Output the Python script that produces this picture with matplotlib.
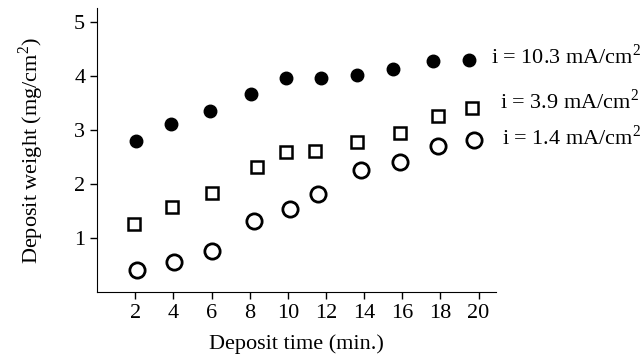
import matplotlib
matplotlib.use("Agg")
import matplotlib.pyplot as plt

# deposit time (min.) and deposit weight (mg/cm2)
t_high = [2.05, 3.85, 5.9, 8.05, 9.9, 11.75, 13.6, 15.5, 17.6, 19.5]
w_high = [2.80, 3.11, 3.35, 3.66, 3.96, 3.96, 4.01, 4.12, 4.28, 4.30]

t_mid = [1.95, 3.95, 6.0, 8.4, 9.9, 11.45, 13.6, 15.9, 17.85, 19.65]
w_mid = [1.26, 1.58, 1.84, 2.32, 2.59, 2.61, 2.78, 2.95, 3.25, 3.40]

t_low = [2.1, 4.05, 6.05, 8.25, 10.1, 11.6, 13.85, 15.9, 17.85, 19.75]
w_low = [0.41, 0.55, 0.75, 1.32, 1.54, 1.81, 2.25, 2.40, 2.71, 2.81]

labels = ["i = 10.3 mA/cm$^2$", "i = 3.9 mA/cm$^2$", "i = 1.4 mA/cm$^2$"]
x_ticks = [2, 4, 6, 8, 10, 12, 14, 16, 18, 20]
y_ticks = [1, 2, 3, 4, 5]

plt.rcParams['font.family'] = ['Liberation Serif', 'DejaVu Serif']
plt.rcParams['mathtext.fontset'] = 'custom'
plt.rcParams['mathtext.rm'] = 'Liberation Serif'

fig = plt.figure(figsize=(6.43, 3.6), dpi=100)
ax = fig.add_axes([0.151, 0.189, 0.62, 0.789])

ax.plot(t_high, w_high, 'o', color='black', markersize=9, linestyle='none')
ax.plot(t_mid, w_mid, 's', markerfacecolor='white', markeredgecolor='black',
        markeredgewidth=1.8, markersize=9, linestyle='none')
ax.plot(t_low, w_low, 'o', markerfacecolor='white', markeredgecolor='black',
        markeredgewidth=2.0, markersize=11, linestyle='none')

# series labels next to the last points
ax.annotate(labels[0], (t_high[-1], w_high[-1]), xytext=(16, 2),
            textcoords='offset points', fontsize=16, va='center', annotation_clip=False)
ax.annotate(labels[1], (t_mid[-1], w_mid[-1]), xytext=(20, 5),
            textcoords='offset points', fontsize=16, va='center', annotation_clip=False)
ax.annotate(labels[2], (t_low[-1], w_low[-1]), xytext=(20, 2),
            textcoords='offset points', fontsize=16, va='center', annotation_clip=False)

ax.set_xlim(0, 20.9)
ax.set_ylim(0, 5.26)
ax.set_xticks(x_ticks)
ax.set_yticks(y_ticks)
ax.tick_params(direction='out', length=5, width=1, labelsize=16, colors='black')
ax.spines['top'].set_visible(False)
ax.spines['right'].set_visible(False)

ax.set_xlabel("Deposit time (min.)", fontsize=16, labelpad=8)
ax.set_ylabel("Deposit weight (mg/cm$^2$)", fontsize=16, labelpad=20)

fig.savefig("out.png", dpi=100)
